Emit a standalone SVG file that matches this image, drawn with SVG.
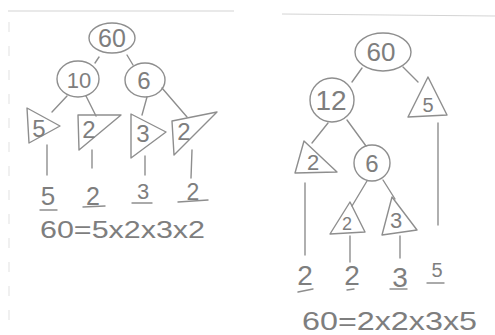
<svg xmlns="http://www.w3.org/2000/svg" width="495" height="335" viewBox="0 0 495 335">
<style>
.s{fill:none;stroke:#8e8e8e;stroke-width:1.4;stroke-linecap:round;stroke-linejoin:round}
.t{font-family:"Liberation Sans","DejaVu Sans",sans-serif;fill:#7e7e7e;text-anchor:middle}
.eq{font-family:"Liberation Sans","DejaVu Sans",sans-serif;fill:#7e7e7e;text-anchor:start}
.rule{fill:none;stroke:#d4d4d4;stroke-width:1.2}
</style>
<rect width="495" height="335" fill="#ffffff"/>
<line class="rule" x1="8" y1="11" x2="234" y2="11"/>
<line class="rule" x1="282" y1="14" x2="495" y2="16"/>
<line x1="9" y1="22" x2="9" y2="330" stroke="#ececec" stroke-width="1.5" stroke-dasharray="10 14"/>

<g id="connectors" class="s">
<line x1="99" y1="57" x2="95" y2="63"/>
<line x1="127" y1="55" x2="133" y2="65"/>
<line x1="67" y1="96" x2="52" y2="112"/>
<line x1="86" y1="96" x2="96" y2="116"/>
<line x1="147" y1="97" x2="142" y2="115"/>
<line x1="162" y1="88" x2="187" y2="117"/>
<line x1="47" y1="145" x2="47" y2="175"/>
<line x1="92" y1="150" x2="92" y2="168"/>
<line x1="145" y1="156" x2="145" y2="175"/>
<line x1="192" y1="150" x2="191" y2="178"/>
<line x1="362" y1="68" x2="352" y2="82"/>
<line x1="403" y1="67" x2="418" y2="82"/>
<line x1="328" y1="123" x2="312" y2="143"/>
<line x1="347" y1="120" x2="366" y2="146"/>
<line x1="367" y1="181" x2="352" y2="206"/>
<line x1="383" y1="180" x2="395" y2="199"/>
<line x1="438" y1="123" x2="438" y2="225"/>
<line x1="305" y1="183" x2="305" y2="255"/>
<line x1="350" y1="236" x2="350" y2="262"/>
<line x1="400" y1="236" x2="400" y2="258"/>
</g>

<g id="L60"><ellipse class="s" cx="112" cy="38" rx="23" ry="15"/><text class="t" x="112" y="47" font-size="25">60</text></g>
<g id="L10"><ellipse class="s" cx="78" cy="79" rx="21" ry="18"/><text class="t" x="79" y="88" font-size="22">10</text></g>
<g id="L6"><ellipse class="s" cx="145" cy="80" rx="20" ry="17"/><text class="t" x="144" y="89" font-size="24">6</text></g>
<g id="L5"><polygon class="s" points="27,108 29,143 60,126"/><text class="t" x="39" y="137" font-size="24">5</text></g>
<g id="L2a"><polygon class="s" points="78,115 121,115 79,150"/><text class="t" x="89" y="138" font-size="24">2</text></g>
<g id="L3"><polygon class="s" points="131,114 131,158 166,132"/><text class="t" x="143" y="142" font-size="24">3</text></g>
<g id="L2b"><polygon class="s" points="172,121 217,112 174,155"/><text class="t" x="184" y="140" font-size="24">2</text></g>

<g id="Lprimes">
<text class="t" x="48" y="205" font-size="26">5</text><line class="s" x1="40" y1="210" x2="57" y2="210"/>
<text class="t" x="93" y="205" font-size="25">2</text><line class="s" x1="83" y1="207" x2="105" y2="206"/>
<text class="t" x="143" y="199" font-size="22">3</text><line class="s" x1="132" y1="203" x2="152" y2="203"/>
<text class="t" x="193" y="200" font-size="23">2</text><line class="s" x1="178" y1="202" x2="208" y2="200"/>
</g>
<g id="Leq"><text class="eq" x="40" y="238" font-size="23" textLength="165" lengthAdjust="spacingAndGlyphs">60=5x2x3x2</text></g>

<g id="R60"><ellipse class="s" cx="383" cy="52" rx="28" ry="19"/><text class="t" x="381" y="61" font-size="26">60</text></g>
<g id="R12"><ellipse class="s" cx="332" cy="100" rx="22" ry="22"/><text class="t" x="331" y="110" font-size="28">12</text></g>
<g id="R5"><polygon class="s" points="428,77 408,117 447,115"/><text class="t" x="428" y="112" font-size="20">5</text></g>
<g id="R2a"><polygon class="s" points="304,141 295,173 337,172"/><text class="t" x="313" y="170" font-size="22">2</text></g>
<g id="R6"><ellipse class="s" cx="372" cy="163" rx="18" ry="18"/><text class="t" x="372" y="172" font-size="24">6</text></g>
<g id="R2b"><polygon class="s" points="350,202 330,234 365,232"/><text class="t" x="347" y="230" font-size="18">2</text></g>
<g id="R3"><polygon class="s" points="392,197 382,235 417,230"/><text class="t" x="396" y="228" font-size="22">3</text></g>

<g id="Rprimes">
<text class="t" x="305" y="285" font-size="28">2</text><line class="s" x1="298" y1="292" x2="313" y2="289"/>
<text class="t" x="352" y="285" font-size="28">2</text><line class="s" x1="347" y1="290" x2="354" y2="289"/>
<text class="t" x="400" y="287" font-size="28">3</text><line class="s" x1="390" y1="289" x2="407" y2="289"/>
<text class="t" x="437" y="277" font-size="20">5</text><line class="s" x1="427" y1="283" x2="444" y2="283"/>
</g>
<g id="Req"><text class="eq" x="302" y="330" font-size="25" textLength="175" lengthAdjust="spacingAndGlyphs">60=2x2x3x5</text></g>
</svg>
